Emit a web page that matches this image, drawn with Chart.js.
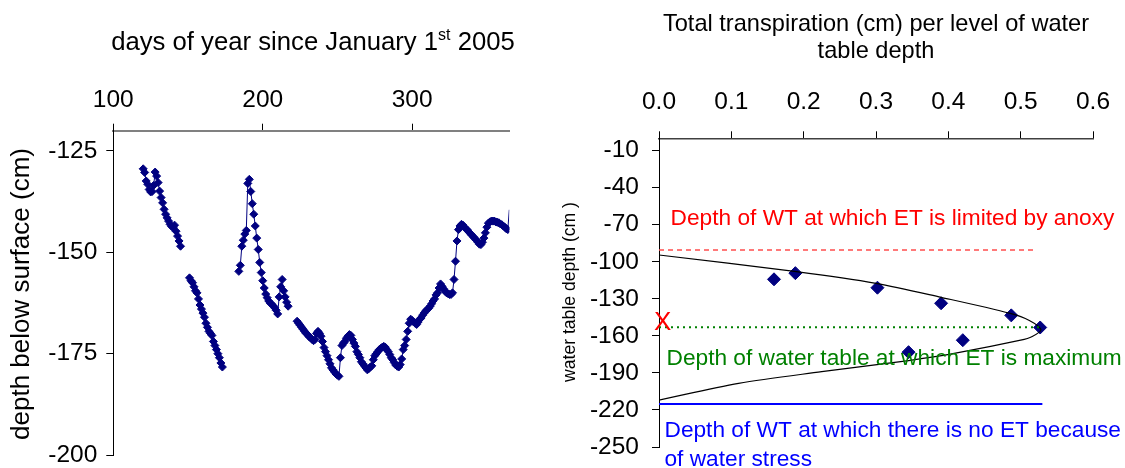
<!DOCTYPE html>
<html>
<head>
<meta charset="utf-8">
<script src="https://cdn.jsdelivr.net/npm/chart.js@4.4.0/dist/chart.umd.min.js"></script>
<style>
  html, body { margin: 0; padding: 0; background: #fff; }
  #wrap { position: relative; width: 1125px; height: 468px; overflow: hidden; }
  canvas { position: absolute; top: 0; }
</style>
</head>
<body>
<div id="wrap">
  <canvas id="depth" width="560" height="468" style="left:0px"></canvas>
  <canvas id="transp" width="585" height="468" style="left:540px"></canvas>
</div>
<script>
"use strict";
const FONT = '"Liberation Sans", Arial, sans-serif';

// ---- left chart: daily water table depth (cm), one value per day from each start day
const segStartDay = [120, 151, 184, 223];
const segDepth = [
  [-129.4, -130.3, -132.4, -133.2, -134.5, -135.1, -135, -133.5, -130.2, -131.2, -132.8, -134.9, -136.5,
   -137.8, -139.4, -140.6, -141.5, -142.3, -143.1, -143.6, -143.9, -143.3, -144.8, -146, -147.2, -148.5],
  [-156.3, -157, -157.5, -158.5, -159.5, -160, -161.5, -163, -164, -165, -166, -167.5, -168.5, -169.5,
   -170, -170.5, -172, -173, -174, -175, -176, -177.3, -178.3],
  [-154.7, -153.2, -148.5, -147, -145.5, -144.6, -133, -132, -135, -138, -140.6, -143.5, -146.5, -149.3,
   -152.5, -155, -157, -158.8, -160.3, -161.2, -162, -162.5, -162.8, -163.2, -163.7, -164.3, -165.2,
   -161, -158.5, -156.7, -159.5, -161, -162.3, -163.3],
  [-167, -167.5, -168, -168.5, -169, -169.5, -170, -170.3, -170.8, -171.1, -171.5, -171.8, -171.5, -170,
   -169.5, -170, -170.7, -172, -173.5, -174.5, -175.5, -176.5, -177.5, -178.5, -179, -179.5, -180, -180.3,
   -180.6, -176, -173, -172.4, -172, -171.2, -170.7, -170.3, -170.5, -171.5, -172.4, -173.2, -174.5,
   -175.2, -176, -177, -177.5, -178, -178.5, -179, -178.7, -178.3, -178, -176.5, -175.5, -175, -174.5,
   -174, -173.7, -173.4, -173.2, -173.4, -174, -174.5, -175.2, -176, -176.5, -177.2, -177.8, -178.1,
   -178.3, -177.7, -176.3, -174, -173, -171.5, -169.5, -167.5, -166.5, -166.8, -167.2, -167.5, -167.8,
   -167.2, -166.5, -166.2, -165.5, -165, -164.5, -164.1, -163.8, -163.3, -162.7, -162, -161.5, -160.5,
   -160, -158.8, -157.8, -158.4, -159, -159.6, -160, -160.2, -160.4, -160.4, -160, -156.7, -152.2,
   -147.2, -144.4, -143.5, -143.1, -143.3, -143.8, -144.2, -144.5, -145, -145.4, -145.8, -146.2, -146.6,
   -147, -147.5, -148, -148.1, -147.5, -146.5, -145.2, -143.8, -142.8, -142.5, -142.3, -142.3, -142.3,
   -142.5, -142.6, -142.7, -143, -143.2, -143.5, -143.8, -144.2, -144.4, -139.5]
];
const dayTicks = [100, 200, 300];
const depthTicks = [-125, -150, -175, -200];

// ---- right chart: transpiration per water table level
const transpiration = [0.159, 0.1885, 0.302, 0.390, 0.487, 0.527, 0.420, 0.345];
const wtLevel = [-114.2, -109.2, -121, -133.6, -143.4, -153.2, -163.5, -173.2];
const fitX = [0, 0.19, 0.30, 0.39, 0.4855, 0.512, 0.528, 0.516, 0.50, 0.41, 0.345, 0.225, 0.11, 0];
const fitY = [-94.5, -108, -117.5, -128.8, -141.8, -147.5, -155, -160.5, -163.5, -174, -180, -189, -198.4, -212];
const anoxyDepth = -90.5, maxEtDepth = -153.1, stressDepth = -215.2;
const transpTicks = [0, 0.1, 0.2, 0.3, 0.4, 0.5, 0.6];
const levelTicks = [-250, -220, -190, -160, -130, -100, -70, -40, -10];

// build the daily series, a null between runs breaks the line
const depthPoints = [];
segDepth.forEach((run, s) => {
  run.forEach((v, i) => depthPoints.push({ x: segStartDay[s] + i, y: v }));
  depthPoints.push({ x: segStartDay[s] + run.length, y: null });
});

function textLayer(items) {
  return {
    id: "textLayer",
    afterDraw(chart) {
      const ctx = chart.ctx;
      items.forEach(t => {
        ctx.save();
        ctx.font = t.size + "px " + FONT;
        ctx.fillStyle = t.color || "#000";
        ctx.textAlign = t.align || "left";
        ctx.textBaseline = t.baseline || "alphabetic";
        let x = t.x, y = t.y;
        if (t.data) {
          x = chart.scales.x.getPixelForValue(t.x);
          y = chart.scales.y.getPixelForValue(t.y);
        }
        if (t.rotate) {
          ctx.translate(x, y);
          ctx.rotate(-Math.PI / 2);
          ctx.fillText(t.text, 0, 0);
        } else if (t.parts) {
          let w = 0;
          t.parts.forEach(p => { ctx.font = p.size + "px " + FONT; w += ctx.measureText(p.text).width; });
          let cx = x - w / 2;
          ctx.textAlign = "left";
          t.parts.forEach(p => {
            ctx.font = p.size + "px " + FONT;
            ctx.fillText(p.text, cx, y - (p.rise || 0));
            cx += ctx.measureText(p.text).width;
          });
        } else {
          ctx.fillText(t.text, x, y);
        }
        ctx.restore();
      });
    }
  };
}

// fixed axis box, no extra room kept for labels overhanging the ends
function axis(ticksList, box, fmt, pad) {
  return {
    afterBuildTicks: a => { a.ticks = ticksList.map(v => ({ value: v })); },
    afterFit: a => {
      if (box.h) a.height = box.h;
      if (box.w) a.width = box.w;
      a.paddingTop = 0; a.paddingBottom = 0; a.paddingLeft = 0; a.paddingRight = 0;
    },
    grid: { drawOnChartArea: false, tickLength: 7, color: "#000" },
    ticks: { font: { family: FONT, size: 24.5 }, color: "#000", padding: pad, maxRotation: 0,
             callback: fmt }
  };
}

new Chart(document.getElementById("depth"), {
  type: "scatter",
  data: {
    datasets: [{
      data: depthPoints,
      showLine: true,
      spanGaps: false,
      borderColor: "#000080",
      borderWidth: 1,
      backgroundColor: "#000080",
      pointStyle: "rectRot",
      // last reading sits on the axis end, drawn as line only
      pointRadius: c => (c.raw && c.raw.x >= 365 ? 0 : 4),
      pointBorderWidth: 1
    }]
  },
  options: {
    responsive: false,
    animation: false,
    devicePixelRatio: 1,
    layout: { padding: { top: 0, left: 0, right: 50.7, bottom: 13 } },
    plugins: { legend: { display: false }, tooltip: { enabled: false } },
    scales: {
      x: Object.assign(axis(dayTicks, { h: 130.7 }, v => String(v), 9), {
        type: "linear", position: "top", min: 100, max: 365,
        border: { color: "#808080", width: 2 }
      }),
      y: Object.assign(axis(depthTicks, { w: 113.3 }, v => String(v), 9), {
        min: -200, max: -120,
        border: { color: "#000", width: 1 }
      })
    }
  },
  plugins: [textLayer([
    { x: 313, y: 50, parts: [
      { text: "days of year since January 1", size: 25.7 },
      { text: "st", size: 16, rise: 10 },
      { text: " 2005", size: 25.7 }
    ] },
    { text: "depth below surface (cm)", x: 22, y: 294, size: 26, align: "center", baseline: "middle", rotate: true }
  ])]
});

new Chart(document.getElementById("transp"), {
  type: "scatter",
  data: {
    datasets: [
      { data: [{ x: 0, y: anoxyDepth }, { x: 0.52, y: anoxyDepth }], showLine: true,
        borderColor: "#FF4D4D", borderWidth: 1.5, borderDash: [5, 4], pointRadius: 0 },
      { data: [{ x: 0, y: maxEtDepth }, { x: 0.527, y: maxEtDepth }], showLine: true,
        borderColor: "#008000", borderWidth: 2, borderDash: [2, 4], pointRadius: 0 },
      { data: [{ x: 0, y: stressDepth }, { x: 0.53, y: stressDepth }], showLine: true,
        borderColor: "#0000FF", borderWidth: 2, pointRadius: 0 },
      { data: fitX.map((x, i) => ({ x: x, y: fitY[i] })), showLine: true, tension: 0.3,
        borderColor: "#000", borderWidth: 1.2, pointRadius: 0 },
      { data: transpiration.map((x, i) => ({ x: x, y: wtLevel[i] })), showLine: false,
        pointStyle: "rectRot", pointRadius: 6.5, backgroundColor: "#000080", borderColor: "#000080" }
    ]
  },
  options: {
    responsive: false,
    animation: false,
    devicePixelRatio: 1,
    layout: { padding: { top: 0, left: 0, right: 32, bottom: 21 } },
    plugins: { legend: { display: false }, tooltip: { enabled: false } },
    scales: {
      x: Object.assign(axis(transpTicks, { h: 138.3 }, v => Number(v).toFixed(1), 14), {
        type: "linear", position: "top", min: 0, max: 0.6,
        border: { color: "#404040", width: 1.5 }
      }),
      y: Object.assign(axis(levelTicks, { w: 119 }, v => String(v), 13), {
        min: -250, max: 0,
        border: { color: "#000", width: 1 }
      })
    }
  },
  plugins: [textLayer([
    { text: "Total transpiration (cm) per level of water", x: 336, y: 31, size: 23.6, align: "center" },
    { text: "table depth", x: 336, y: 58, size: 23.6, align: "center" },
    { text: "water table depth (cm )", x: 30, y: 292, size: 17.6, align: "center", baseline: "middle", rotate: true },
    { text: "Depth of WT at which ET is limited by anoxy", data: true, x: 0.016, y: -70.2, size: 22.7, color: "#FF0000" },
    { text: "Depth of water table at which ET is maximum", data: true, x: 0.0104, y: -183.2, size: 22.7, color: "#008000" },
    { text: "Depth of WT at which there is no ET because", data: true, x: 0.0076, y: -242.1, size: 22.7, color: "#0000FF" },
    { text: "of water stress", data: true, x: 0.0076, y: -265.4, size: 22.7, color: "#0000FF" },
    { text: "X", data: true, x: 0.005, y: -155.5, size: 26, color: "#FF0000", align: "center" }
  ])]
});
</script>
</body>
</html>
